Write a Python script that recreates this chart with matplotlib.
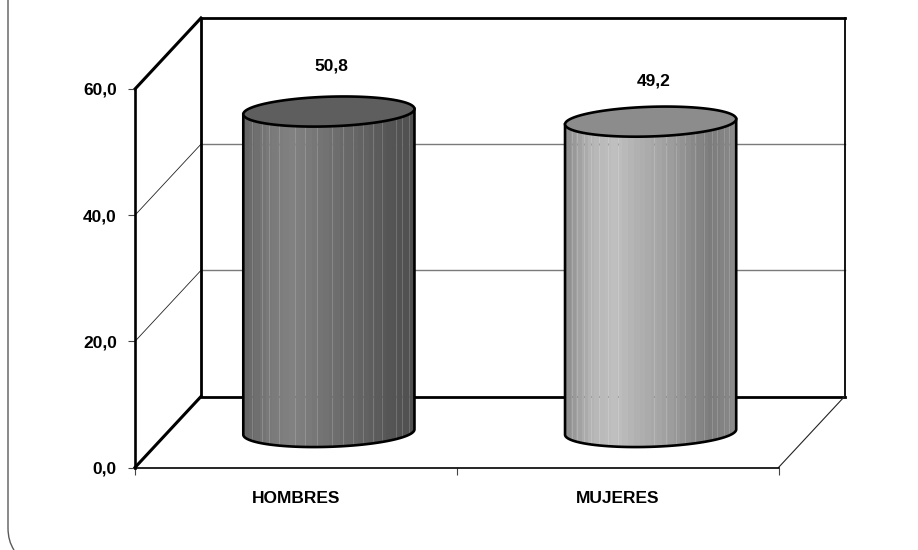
import numpy as np
import matplotlib
matplotlib.use("Agg")
import matplotlib.pyplot as plt
from matplotlib.colors import LinearSegmentedColormap
from matplotlib.patches import PathPatch
from matplotlib.path import Path

categories = ["HOMBRES", "MUJERES"]
values = [50.8, 49.2]
value_labels = ["50,8", "49,2"]
y_ticks = [0, 20, 40, 60]
y_tick_labels = ["0,0", "20,0", "40,0", "60,0"]

W, H = 918, 550
# front plane of the fake 3d box, in pixels
LEFT, RIGHT, BOTTOM, TOP = 135, 778.5, 467.5, 89
DX = 66 / ((RIGHT - LEFT) / 2)
DY = 71 / ((BOTTOM - TOP) / 60)
RX = 0.266
RY = 2.35
TILT = 0.42

# shading of the cylinders, left to right
shades = [
    ["#666666", "#7a7a7a", "#828282", "#767676", "#6c6c6c", "#626262", "#565656", "#505050"],
    ["#909090", "#b6b6b6", "#c0c0c0", "#b0b0b0", "#a4a4a4", "#909090", "#7c7c7c", "#8a8a8a"],
]
# pale streaks, as fraction of the cylinder width
streaks = [
    [0.05, 0.11, 0.15, 0.21, 0.30, 0.36, 0.43, 0.52, 0.58, 0.64, 0.70, 0.76, 0.81, 0.89, 0.93, 0.97],
    [0.04, 0.07, 0.11, 0.15, 0.20, 0.25, 0.31, 0.52, 0.59, 0.65, 0.70, 0.76, 0.81, 0.86, 0.89, 0.93, 0.96],
]
top_colors = ["#5e5e5e", "#8c8c8c"]

plt.rcParams["font.family"] = ["Liberation Sans Narrow", "Liberation Sans", "DejaVu Sans"]
plt.rcParams["font.weight"] = "bold"
plt.rcParams["font.size"] = 12.5

fig = plt.figure(figsize=(W / 100, H / 100), dpi=100)
ax = fig.add_axes([LEFT / W, 1 - BOTTOM / H, (RIGHT - LEFT) / W, (BOTTOM - TOP) / H])
ax.set_facecolor("none")

x_min, x_max = 0, len(categories)
y_max = max(y_ticks)
back_z = 1


def box_line(xs, ys, lw, color="black"):
    ax.plot(xs, ys, color=color, lw=lw, clip_on=False, zorder=back_z, solid_capstyle="projecting")


# gridlines and their run along the side wall
for t in y_ticks[1:-1]:
    box_line([x_min + DX, x_max + DX], [t + DY, t + DY], 1.0, "#7a7a7a")
    ax.plot([x_min, x_min + DX], [t, t + DY], color="#222222", lw=0.6, clip_on=False, zorder=back_z)
# back wall, the right edge is thinner
box_line([x_max + DX, x_min + DX, x_min + DX, x_max + DX],
         [DY, DY, y_max + DY, y_max + DY], 2.0)
box_line([x_max + DX, x_max + DX], [DY, y_max + DY], 1.3)
# side wall and floor edges
box_line([x_min, x_min + DX], [0, DY], 2.2)
box_line([x_min, x_min + DX], [y_max, y_max + DY], 2.2)
ax.plot([x_max, x_max + DX], [0, DY], color="#222222", lw=0.8, clip_on=False, zorder=back_z)

# cylinders
t_back = np.linspace(0, np.pi, 80)
t_front = np.linspace(np.pi, 2 * np.pi, 80)
for i, v in enumerate(values):
    cx = i + 0.5 + DX / 2
    base = DY / 2
    top = v + DY / 2

    def ring(t, cy):
        return cx + RX * np.cos(t), cy + RY * np.sin(t) + TILT * np.cos(t)

    bx, by = ring(t_front, base)
    tx, ty = ring(t_back, top)
    body = np.column_stack([np.r_[bx, tx], np.r_[by, ty]])
    clip = PathPatch(Path(np.vstack([body, body[:1]])), transform=ax.transData,
                     facecolor="none", edgecolor="none")
    ax.add_patch(clip)

    cmap = LinearSegmentedColormap.from_list("cyl", shades[i], N=30)
    img = ax.imshow(np.linspace(0, 1, 30)[None, :], cmap=cmap, aspect="auto", zorder=3,
                    extent=[cx - RX, cx + RX, base - RY - 1, top + RY + 1], interpolation="nearest")
    img.set_clip_path(clip)

    xs = cx - RX + 2 * RX * np.array(streaks[i])
    pale = ax.vlines(xs, base - RY - 1, top + RY, color="white", lw=0.6, alpha=0.2, zorder=3.2)
    pale.set_clip_path(clip)
    # the wall lines show faintly through the streaks
    for y_mark, mark_col in [(DY, "#444444"), (40 + DY, "#777777")]:
        marks = ax.vlines(xs, y_mark - 0.15, y_mark + 0.15, color=mark_col, lw=0.6, alpha=0.6, zorder=3.3)
        marks.set_clip_path(clip)

    # outline: sides and front of the base
    ox = np.r_[tx[-1], bx, tx[0]]
    oy = np.r_[ty[-1], by, ty[0]]
    ax.plot(ox, oy, color="black", lw=1.9, zorder=4, clip_on=False)

    t_all = np.linspace(0, 2 * np.pi, 160)
    ex, ey = ring(t_all, top)
    ax.fill(ex, ey, facecolor=top_colors[i], edgecolor="black", lw=1.9, zorder=5)

    ax.text(cx + 0.008, top + 6.4 + (0.8 if i == 0 else 0), value_labels[i], ha="center", va="center", zorder=6)

ax.set_xlim(x_min, x_max)
ax.set_ylim(0, y_max)

for side in ["top", "right"]:
    ax.spines[side].set_visible(False)
ax.spines["left"].set_linewidth(1.9)
ax.spines["bottom"].set_linewidth(1.2)

ax.set_yticks(y_ticks)
ax.set_yticklabels(y_tick_labels)
ax.tick_params(axis="y", length=5, width=0.8, pad=8, color="#444444")
ax.set_xticks(range(x_max + 1))
ax.set_xticklabels([])
ax.tick_params(axis="x", which="major", length=5, width=0.8, color="#444444")
ax.set_xticks(np.arange(len(categories)) + 0.5, minor=True)
ax.set_xticklabels(categories, minor=True)
ax.tick_params(axis="x", which="minor", length=0, pad=17)

# rounded frame of the slide, only its left side is in the picture
frame = Path(np.array([[8, 0], [8, 528], [8, 541], [14, 550]]) / [W, -H] + [0, 1],
             [Path.MOVETO, Path.LINETO, Path.CURVE3, Path.CURVE3])
fig.add_artist(PathPatch(frame, transform=fig.transFigure, facecolor="none", edgecolor="#5a5a5a", lw=1.0))

fig.savefig("out.png", dpi=100)
